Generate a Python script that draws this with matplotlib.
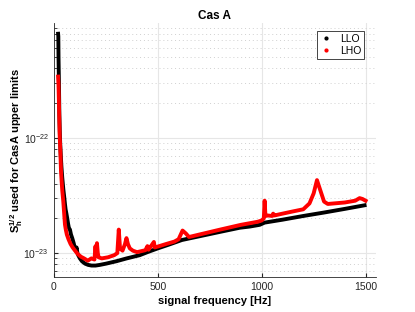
import matplotlib
matplotlib.use("Agg")
import matplotlib.pyplot as plt
from matplotlib.lines import Line2D
import matplotlib.ticker as mticker

title = "Cas A"
xlabel = "signal frequency [Hz]"
ylabel = r"S$_\mathregular{h}^\mathregular{1/2}$ used for CasA upper limits"
series_names = ["LLO", "LHO"]

llo_freq = [20, 21, 22, 24, 26, 28, 30, 33, 36, 40, 45, 50, 53, 56, 60, 64, 68, 72, 77, 82,
            88, 95, 100, 105, 109, 113, 118, 125, 135, 150, 165, 181, 200, 220, 250, 300,
            350, 413, 450, 500, 550, 616, 700, 800, 894, 942, 990, 1014, 1100, 1200, 1300,
            1400, 1495]
llo_vals = [8.0e-22, 7.6e-22, 5.0e-22, 3.0e-22, 1.6e-22, 1.15e-22, 9.0e-23, 7.0e-23, 5.6e-23,
            4.5e-23, 3.6e-23, 3.0e-23, 2.66e-23, 2.4e-23, 2.2e-23, 2.0e-23, 1.8e-23, 1.65e-23,
            1.6e-23, 1.45e-23, 1.35e-23, 1.22e-23, 1.12e-23, 1.05e-23, 1.12e-23, 1.0e-23,
            0.95e-23, 0.9e-23, 0.85e-23, 0.81e-23, 0.79e-23, 0.78e-23, 0.78e-23, 0.79e-23,
            0.81e-23, 0.85e-23, 0.9e-23, 0.96e-23, 1.02e-23, 1.1e-23, 1.18e-23, 1.3e-23,
            1.4e-23, 1.53e-23, 1.66e-23, 1.7e-23, 1.76e-23, 1.84e-23, 1.95e-23, 2.1e-23,
            2.25e-23, 2.42e-23, 2.6e-23]

lho_freq = [20, 22, 24, 26, 28, 31, 34, 37, 40, 45, 50, 53, 57, 62, 70, 80, 90, 100, 115,
            130, 145, 163, 180, 195, 200, 203, 207, 211, 215, 230, 260, 290, 305, 312, 318,
            330, 342, 349, 356, 365, 380, 400, 440, 450, 455, 481, 485, 500, 540, 580, 600,
            619, 635, 650, 700, 800, 900, 980, 1000, 1010, 1014, 1018, 1030, 1050, 1055,
            1060, 1100, 1150, 1200, 1230, 1250, 1266, 1280, 1300, 1318, 1400, 1450, 1471,
            1485, 1500]
lho_vals = [3.4e-22, 2.9e-22, 2.0e-22, 1.4e-22, 1.0e-22, 7.5e-23, 5.1e-23, 4.2e-23, 3.5e-23,
            2.8e-23, 2.1e-23, 1.77e-23, 1.6e-23, 1.45e-23, 1.32e-23, 1.2e-23, 1.12e-23,
            1.06e-23, 0.98e-23, 0.93e-23, 0.9e-23, 0.86e-23, 0.9e-23, 0.88e-23, 1.15e-23,
            0.95e-23, 1.22e-23, 1.0e-23, 0.92e-23, 0.9e-23, 0.92e-23, 0.96e-23, 1.0e-23,
            1.6e-23, 1.1e-23, 1.05e-23, 1.2e-23, 1.35e-23, 1.2e-23, 1.1e-23, 1.05e-23,
            1.02e-23, 1.06e-23, 1.15e-23, 1.07e-23, 1.25e-23, 1.12e-23, 1.14e-23, 1.2e-23,
            1.26e-23, 1.32e-23, 1.57e-23, 1.48e-23, 1.38e-23, 1.45e-23, 1.6e-23, 1.76e-23,
            1.87e-23, 1.92e-23, 2.0e-23, 2.85e-23, 2.1e-23, 2.12e-23, 2.1e-23, 2.2e-23,
            2.12e-23, 2.2e-23, 2.3e-23, 2.4e-23, 2.7e-23, 3.3e-23, 4.3e-23, 3.6e-23, 2.8e-23,
            2.67e-23, 2.75e-23, 2.85e-23, 3.0e-23, 2.95e-23, 2.85e-23]

xticks = [0, 500, 1000, 1500]
yticks = [1e-23, 1e-22]
xlim = (0, 1550)
ylim = (6.2e-24, 0.99e-21)

plt.rcParams['font.family'] = ['Liberation Sans', 'DejaVu Sans']
plt.rcParams['mathtext.fontset'] = 'custom'
plt.rcParams['mathtext.rm'] = 'Liberation Sans'
plt.rcParams['mathtext.bf'] = 'Liberation Sans:bold'
fig = plt.figure(figsize=(4.15, 3.12), dpi=100)
ax = fig.add_axes([0.130, 0.112, 0.776, 0.814])

ax.plot(llo_freq, llo_vals, color='black', lw=2.8, solid_joinstyle='round', zorder=3)
ax.plot(lho_freq, lho_vals, color='red', lw=2.8, solid_joinstyle='round', zorder=4)

ax.set_yscale('log')
ax.set_xlim(*xlim)
ax.set_ylim(*ylim)
ax.set_xticks(xticks)
ax.yaxis.set_major_locator(mticker.FixedLocator(yticks))
ax.yaxis.set_minor_locator(mticker.LogLocator(base=10, subs=range(2, 10), numticks=20))
ax.yaxis.set_minor_formatter(mticker.NullFormatter())

ax.grid(True, which='major', color='#e6e6e6', lw=0.8, ls='-', zorder=0)
ax.grid(True, which='minor', axis='y', color='#d0d0d0', lw=0.7, ls=(0, (1, 3)), zorder=0)
ax.set_axisbelow(True)

ax.tick_params(which='both', direction='in', labelsize=7.5, colors='#262626',
               top=False, right=False)
ax.tick_params(which='major', length=3)
ax.tick_params(which='minor', length=1.8)
for s in ['top', 'right']:
    ax.spines[s].set_visible(False)
for s in ['left', 'bottom']:
    ax.spines[s].set_color('#262626')
    ax.spines[s].set_linewidth(0.6)

ax.set_title(title, fontsize=8.5, fontweight='bold', pad=3)
ax.set_xlabel(xlabel, fontsize=8, fontweight='bold', labelpad=3)
ax.set_ylabel(ylabel, fontsize=8, fontweight='bold', labelpad=-1)

handles = [Line2D([], [], color='black', marker='.', ls='none', markersize=4),
           Line2D([], [], color='red', marker='.', ls='none', markersize=4)]
leg = ax.legend(handles, series_names, loc='upper right', fontsize=7.5,
                bbox_to_anchor=(0.98, 0.99), fancybox=False, framealpha=1,
                edgecolor='#262626', handlelength=1.2, handletextpad=0.7,
                borderpad=0.3, labelspacing=0.2)
leg.get_frame().set_linewidth(0.6)

fig.savefig("out.png", dpi=100)
